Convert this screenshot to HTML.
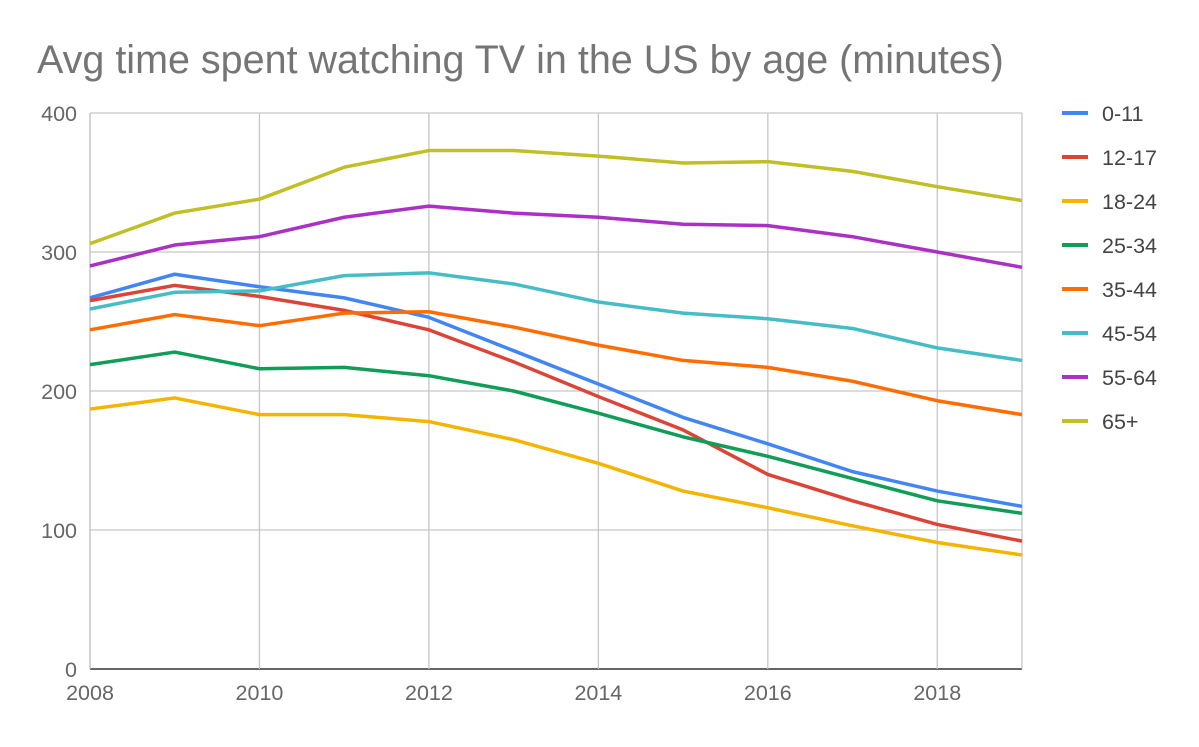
<!DOCTYPE html>
<html><head><meta charset="utf-8"><style>
body{margin:0;background:#fff;font-family:"Liberation Sans",sans-serif}
svg text{font-family:"Liberation Sans",sans-serif}
</style></head><body>
<svg id="chart" width="1199" height="742" viewBox="0 0 1199 742">
<text x="37" y="73" font-size="39.5" fill="#757575">Avg time spent watching TV in the US by age (minutes)</text>
<g id="grid"></g><g id="lines"></g><g id="legend"></g>
</svg>
<script>
const years=[2008,2009,2010,2011,2012,2013,2014,2015,2016,2017,2018,2019];
const xTicks=[2008,2010,2012,2014,2016,2018];
const yTicks=[0,100,200,300,400];
const seriesNames=["0-11","12-17","18-24","25-34","35-44","45-54","55-64","65+"];
const colors=["#4285f4","#db4437","#f4b400","#0f9d58","#ff6d00","#46bdc6","#ab30c4","#c0bf25"];
const s0_11=[267,284,275,267,253,229,205,181,162,142,128,117];
const s12_17=[265,276,268,258,244,221,196,172,140,121,104,92];
const s18_24=[187,195,183,183,178,165,148,128,116,103,91,82];
const s25_34=[219,228,216,217,211,200,184,167,153,137,121,112];
const s35_44=[244,255,247,256,257,246,233,222,217,207,193,183];
const s45_54=[259,271,272,283,285,277,264,256,252,245,231,222];
const s55_64=[290,305,311,325,333,328,325,320,319,311,300,289];
const s65=[306,328,338,361,373,373,369,364,365,358,347,337];
const allSeries=[s0_11,s12_17,s18_24,s25_34,s35_44,s45_54,s55_64,s65];
const NS="http://www.w3.org/2000/svg";
const x0=90,x1=1022,y0=669,y1=113;
const xs=v=>x0+(v-2008)/(2019-2008)*(x1-x0);
const ys=v=>y0-v/400*(y0-y1);
function mk(t,a,p){const e=document.createElementNS(NS,t);for(const k in a)e.setAttribute(k,a[k]);p.appendChild(e);return e;}
const grid=document.getElementById('grid');
yTicks.forEach(v=>{
 const l=mk('line',{x1:x0,x2:x1,y1:ys(v),y2:ys(v),stroke:v===0?'#333':'#c6c6c6','stroke-width':v===0?1.5:1.3},grid);
 
 
 const t=mk('text',{x:77,y:ys(v)+8,'text-anchor':'end','font-size':21.5,fill:'#666'},grid);
 t.textContent=v;
 
 
});
xTicks.forEach(v=>{
 const l=mk('line',{x1:xs(v),x2:xs(v),y1:y1,y2:y0,stroke:'#c6c6c6','stroke-width':1.3},grid);
 
 
 const t=mk('text',{x:xs(v),y:700,'text-anchor':'middle','font-size':21.5,fill:'#666'},grid);
 t.textContent=v;
 
 
});
mk('line',{x1:x1,x2:x1,y1:y1,y2:y0,stroke:'#c6c6c6','stroke-width':1.3},grid);
mk('line',{x1:x0,x2:x0,y1:y1,y2:y0,stroke:'#c6c6c6','stroke-width':1.3},grid);
const lines=document.getElementById('lines'),leg=document.getElementById('legend');
allSeries.forEach((s,i)=>{
 const p=mk('polyline',{points:s.map((v,j)=>xs(years[j])+','+ys(v)).join(' '),fill:'none',stroke:colors[i],'stroke-width':3.5,'stroke-linejoin':'round'},lines);
 
 
 const g=mk('g',{},leg);
 
 
 const ly=113+i*44;
 mk('line',{x1:1062,x2:1088,y1:ly,y2:ly,stroke:colors[i],'stroke-width':4},g);
 const t=mk('text',{x:1102,y:ly+8,'font-size':21.5,fill:'#444'},g);
 t.textContent=seriesNames[i];
});
</script>
</body></html>
